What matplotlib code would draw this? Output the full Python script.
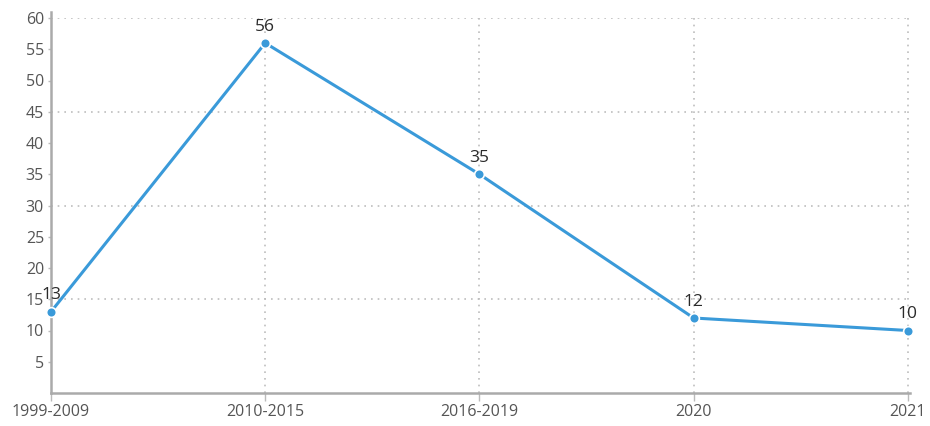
import matplotlib
matplotlib.use("Agg")
from matplotlib import pyplot as plt

categories = ["1999-2009", "2010-2015", "2016-2019", "2020", "2021"]
values = [13, 56, 35, 12, 10]
y_ticks = list(range(5, 65, 5))
grid_y = [15, 30, 45, 60]

plt.rcParams['font.family'] = ['Open Sans', 'DejaVu Sans']

fig = plt.figure(figsize=(9.3, 4.26), dpi=100)
ax = fig.add_axes([51 / 930, 33 / 426, 859 / 930, 375 / 426])

x = list(range(len(categories)))

# grid
for gy in grid_y:
    ax.axhline(gy, color="#bdbdbd", linestyle=(0, (1, 3)), linewidth=1.2, zorder=0)
for gx in x[1:]:
    ax.axvline(gx, color="#bdbdbd", linestyle=(0, (1, 3)), linewidth=1.2, zorder=0)

ax.plot(x, values, color="#3a9ad9", linewidth=2.2, marker="o", markersize=7,
        markerfacecolor="#3a9ad9", markeredgecolor="white", markeredgewidth=1.2,
        zorder=3, clip_on=False)

for xi, v in zip(x, values):
    ax.annotate(str(v), (xi, v), xytext=(0, 6), textcoords="offset points",
                ha="center", va="bottom", fontsize=12.5, color="#2a2a2a")

ax.set_xlim(0, 4.01)
ax.set_ylim(0, 60)
ax.set_yticks(y_ticks)
ax.set_xticks(x)
ax.set_xticklabels(categories)
ax.tick_params(axis="y", length=2, width=1, color="#bbbbbb", labelsize=11.5,
               labelcolor="#555555", pad=3)
ax.tick_params(axis="x", length=6, width=1, color="#bbbbbb", labelsize=11.5,
               labelcolor="#555555", pad=2)

for side in ["top", "right"]:
    ax.spines[side].set_visible(False)
ax.spines["left"].set_color("#aaaaaa")
ax.spines["left"].set_linewidth(1.8)
ax.spines["bottom"].set_color("#aaaaaa")
ax.spines["bottom"].set_linewidth(1.8)
ax.spines["left"].set_bounds(0, 61)

fig.savefig("out.png", dpi=100)
